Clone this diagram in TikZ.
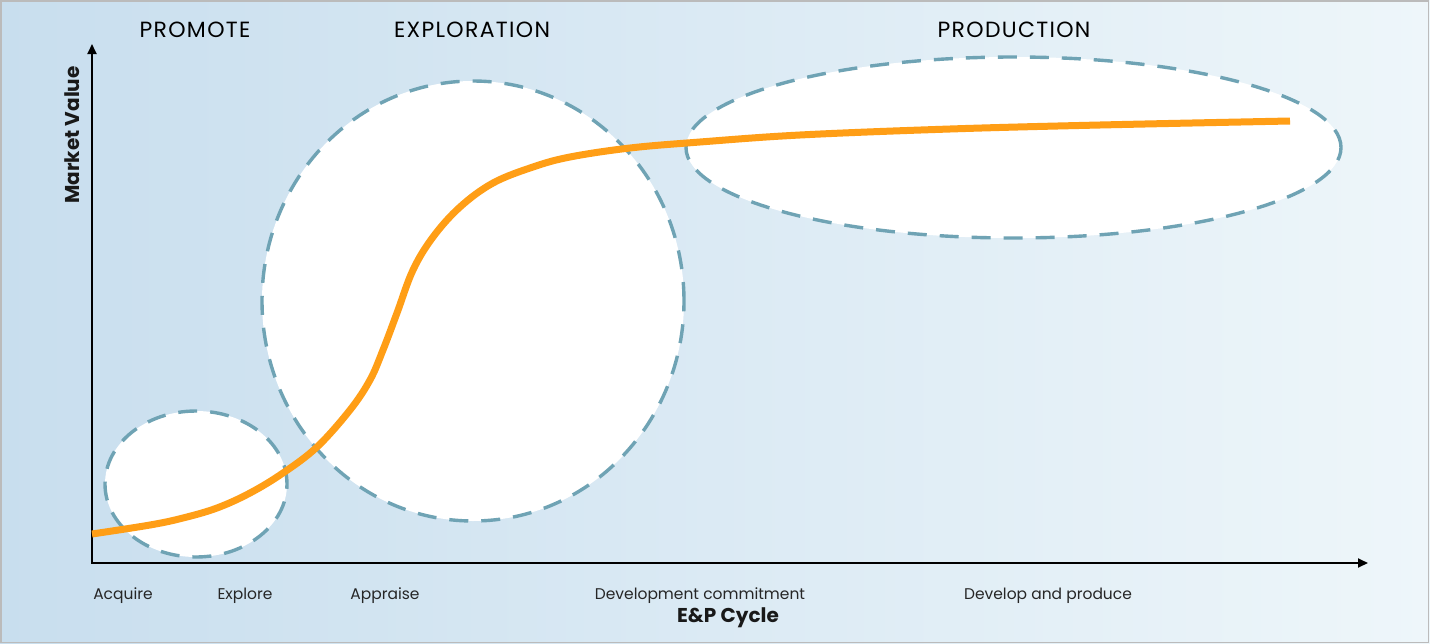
\documentclass[tikz,border=0pt]{standalone}
\usepackage{fontspec}
\setmainfont{Poppins}
\newfontfamily\titlefont[LetterSpace=6]{Poppins}
\usetikzlibrary{arrows.meta,shapes.geometric}
\definecolor{bgleft}{HTML}{C8DEEE}
\definecolor{bgright}{HTML}{EEF6FA}
\definecolor{dashcol}{HTML}{6FA3B4}
\definecolor{curvecol}{HTML}{FF9E16}
\definecolor{framecol}{HTML}{BBBBBB}
\tikzset{
  phase/.style={ellipse, fill=white, draw=dashcol, line width=3.4pt, dash pattern=on 19pt off 13pt, inner sep=0pt},
  title/.style={font=\titlefont\fontsize{22}{26}\selectfont, text=black},
  tick/.style={font=\fontsize{15.5}{18}\selectfont, text=black!85, anchor=base},
  axislabel/.style={font=\fontsize{20}{24}\selectfont\bfseries, text=black!90},
  axis/.style={line width=1.8pt, -{Triangle[length=10pt,width=9pt]}},
}
\begin{document}
\begin{tikzpicture}[x=1pt,y=-1pt]
\useasboundingbox (0,0) rectangle (1430,643);
\shade[left color=bgleft, right color=bgright] (0,0) rectangle (1430,643);
\draw[framecol, line width=1.5pt] (0.75,1) rectangle (1428.5,642.25);
% phase ellipses
\node[phase, minimum width=182pt, minimum height=146pt] (promote) at (196,484) {};
\node[phase, minimum width=422pt, minimum height=440pt] (explor) at (473,301) {};
\node[phase, minimum width=655pt, minimum height=181pt] (prod) at (1013.5,147.5) {};
% axes
\coordinate (origin) at (92,563);
\coordinate (ytop) at (92,44);
\coordinate (xend) at (1368,563);
\draw[axis] (origin) -- (ytop);
\draw[axis] ([xshift=-0.9pt]origin) -- (xend);
% curve
\draw[curvecol, line width=7pt] plot[smooth, tension=0.6] coordinates {
 (92,534) (150,525) (183,518) (217,508) (250,493) (283,473) (317,447)
 (350,410) (370,380) (383,350) (397,313) (413,270) (433,237) (460,207)
 (493,183) (533,167) (570,157) (630,148) (700,142) (800,135)
 (950,129) (1100,125) (1290,121)};
% titles
\node[title] (tpromote) at (195,30) {PROMOTE};
\node[title] (texplor) at (472,30) {EXPLORATION};
\node[title] (tprod) at (1014,30) {PRODUCTION};
% axis labels
\node[axislabel, rotate=90] (ylab) at (72,135) {Market Value};
\node[axislabel] (xlab) at (728,618) {E\&P Cycle};
% ticks
\node[tick] (acq) at (123,599) {Acquire};
\node[tick] (expl) at (245,599) {Explore};
\node[tick] (appr) at (385,599) {Appraise};
\node[tick] (dev) at (700,599) {Development commitment};
\node[tick] (prodl) at (1048,599) {Develop and produce};
\end{tikzpicture}
\end{document}
